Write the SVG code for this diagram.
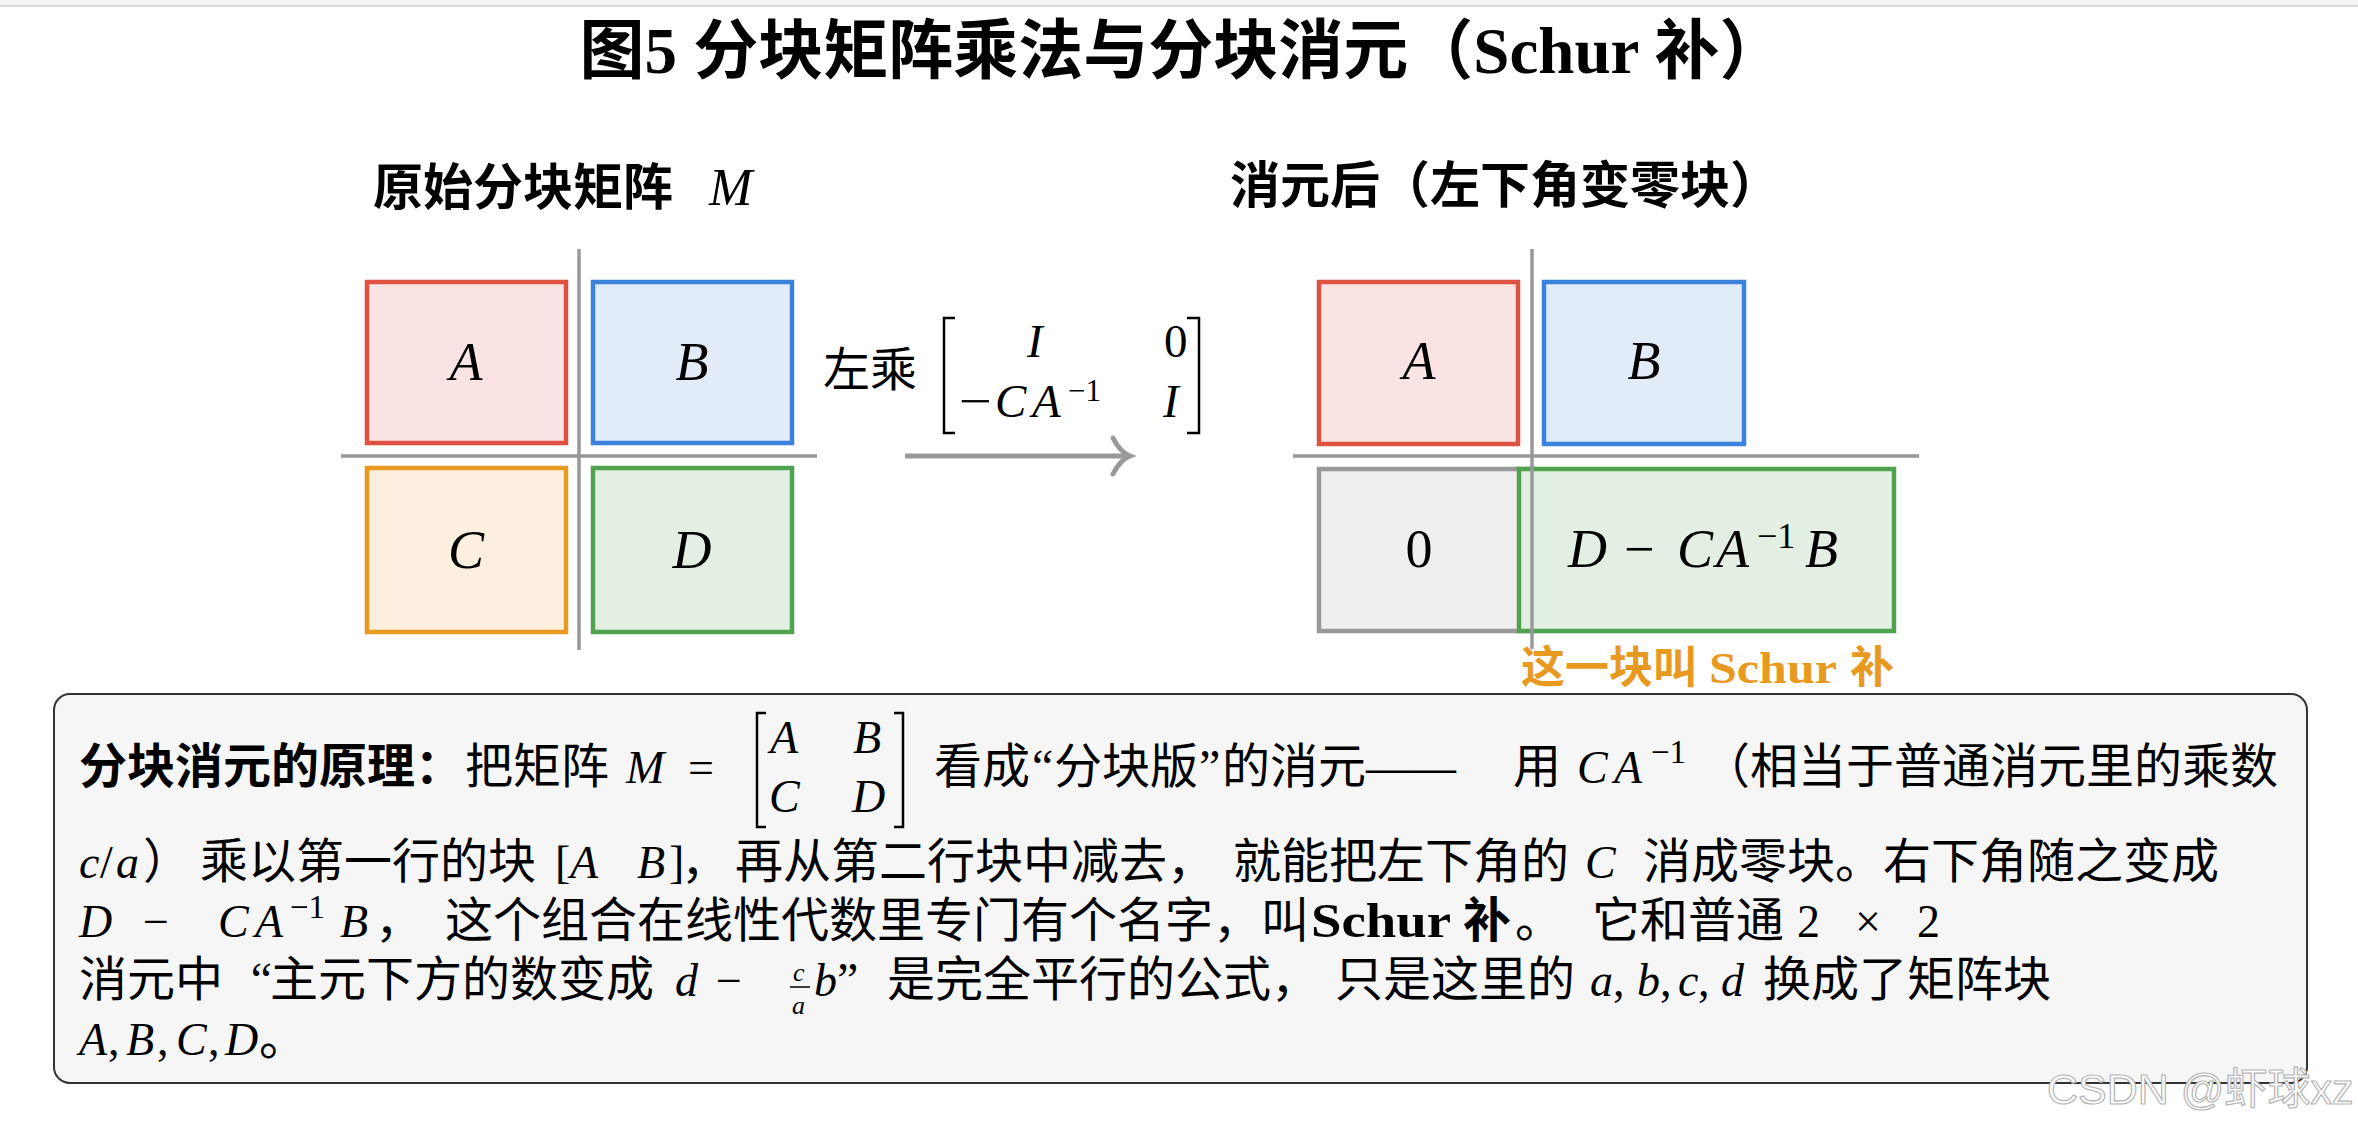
<svg xmlns="http://www.w3.org/2000/svg" width="2358" height="1134" viewBox="0 0 2358 1134">
<style>
.cj{font-family:"Liberation Serif","Noto Sans CJK SC",serif;}
.b{font-weight:bold}
.m{font-family:"Liberation Serif",serif;font-style:italic}
.r{font-family:"Liberation Serif",serif}
.lbl{font-family:"Liberation Serif",serif;font-style:italic;font-size:54px;text-anchor:middle}
.blk{stroke-width:4.5}
.div{stroke:#999;stroke-width:3.5}
.br{fill:none;stroke:#000;stroke-width:2.5}
.body{font-size:48px}
.mb{font-size:46px}
.sup{font-size:33px}
</style>
<rect x="0" y="0" width="2358" height="1134" fill="#ffffff"/>
<rect x="0" y="0" width="2358" height="5" fill="#f3f3f3"/>
<line x1="0" y1="6" x2="2358" y2="6" stroke="#cccccc" stroke-width="1.5"/>

<g id="title">
<text x="1182" y="73" class="cj b" font-size="65" text-anchor="middle">图5 分块矩阵乘法与分块消元（Schur 补）</text>
</g>

<g id="left-heading">
<text x="373" y="205" class="cj b" font-size="50">原始分块矩阵</text>
<text x="709" y="205" class="m" font-size="52">M</text>
</g>
<g id="right-heading">
<text x="1230" y="203" class="cj b" font-size="50">消元后（左下角变零块）</text>
</g>

<g id="left-matrix">
<g id="blockA"><rect x="367" y="282" width="199" height="161" fill="#f9e3e3" stroke="#df5140" class="blk"/><text x="466" y="380" class="lbl">A</text></g>
<g id="blockB"><rect x="593" y="282" width="199" height="161" fill="#e1ecf8" stroke="#3b82dc" class="blk"/><text x="692" y="380" class="lbl">B</text></g>
<g id="blockC"><rect x="367" y="468" width="199" height="164" fill="#fcefdf" stroke="#e8991f" class="blk"/><text x="466" y="568" class="lbl">C</text></g>
<g id="blockD"><rect x="593" y="468" width="199" height="164" fill="#e3efe2" stroke="#4fa34f" class="blk"/><text x="692" y="568" class="lbl">D</text></g>
<line x1="579" y1="249" x2="579" y2="650" class="div"/>
<line x1="341" y1="456" x2="817" y2="456" class="div"/>
</g>

<g id="right-matrix">
<g id="blockA2"><rect x="1319" y="282" width="199" height="162" fill="#f9e3e3" stroke="#df5140" class="blk"/><text x="1419" y="379" class="lbl">A</text></g>
<g id="blockB2"><rect x="1544" y="282" width="200" height="162" fill="#e1ecf8" stroke="#3b82dc" class="blk"/><text x="1644" y="379" class="lbl">B</text></g>
<g id="block0"><rect x="1319" y="469" width="215" height="162" fill="#efefef" stroke="#999999" class="blk"/><text x="1419" y="567" font-size="54" class="r" text-anchor="middle">0</text></g>
<g id="blockS"><rect x="1519" y="469" width="375" height="162" fill="#e3efe2" stroke="#4fa34f" class="blk"/>
<text y="567" font-size="54"><tspan x="1568" class="m">D</tspan><tspan x="1624" class="r">−</tspan><tspan x="1677" class="m">C</tspan><tspan x="1716" class="m">A</tspan><tspan x="1805" class="m">B</tspan></text>
<text x="1757" y="548" font-size="36" class="r">−1</text></g>
<line x1="1532" y1="249" x2="1532" y2="649" class="div"/>
<line x1="1293" y1="456" x2="1919" y2="456" class="div"/>
<g id="schur-label"><text y="683" class="cj b" font-size="44" fill="#e8991f"><tspan x="1521">这一块叫</tspan><tspan x="1709" textLength="128" lengthAdjust="spacingAndGlyphs">Schur</tspan><tspan x="1850">补</tspan></text></g>
</g>

<g id="connectors">
<g id="arrow">
<line x1="905" y1="456" x2="1127" y2="456" stroke="#999999" stroke-width="5"/>
<path d="M1113,438 Q1120,452 1130,456 Q1120,460 1113,474" fill="none" stroke="#999999" stroke-width="5" stroke-linecap="round"/>
</g>
<g id="arrow-label">
<text x="823" y="386" class="cj" font-size="47">左乘</text>
<path d="M955,318 H944 V433 H955" class="br"/>
<path d="M1187,318 H1199 V433 H1187" class="br"/>
<text x="1027" y="357" class="m" font-size="47">I</text>
<text x="1164" y="357" class="r" font-size="47">0</text>
<text x="959" y="417" class="r" font-size="47" textLength="33" lengthAdjust="spacingAndGlyphs">−</text>
<text y="417" font-size="47"><tspan x="995" class="m">C</tspan><tspan x="1032" class="m">A</tspan></text>
<text x="1068" y="401" class="r" font-size="31">−1</text>
<text x="1163" y="417" class="m" font-size="47">I</text>
</g>
</g>

<g id="explanation">
<rect x="54" y="694" width="2253" height="389" rx="16" ry="16" fill="#f6f6f6" stroke="#333333" stroke-width="2"/>
<!-- line 1 -->
<text x="79" y="783" class="cj b body">分块消元的原理：</text>
<text x="465" y="783" class="cj body">把矩阵</text>
<text x="626" y="783" class="m mb">M</text>
<text x="688" y="783" class="r mb">=</text>
<path d="M766,713 H757 V827 H766" class="br"/>
<path d="M894,713 H903 V827 H894" class="br"/>
<text y="753" class="m mb"><tspan x="770">A</tspan><tspan x="853">B</tspan></text>
<text y="812" class="m mb"><tspan x="769">C</tspan><tspan x="852">D</tspan></text>
<text x="934" y="783" class="cj body">看成</text>
<text x="1032" y="783" class="cj body">“</text>
<text x="1054" y="783" class="cj body">分块版</text>
<text x="1199" y="783" class="cj body">”</text>
<text x="1222" y="783" class="cj body">的消元</text>
<text x="1366" y="783" class="r body" textLength="90" lengthAdjust="spacingAndGlyphs">——</text>
<text x="1513" y="783" class="cj body">用</text>
<text y="783" class="m mb"><tspan x="1577">C</tspan><tspan x="1614">A</tspan></text>
<text x="1651" y="763" class="r sup">−1</text>
<text x="1702" y="783" class="cj body">（相当于普通消元里的乘数</text>
<!-- line 2 -->
<text y="878" class="mb"><tspan x="79" class="m">c</tspan><tspan x="100" class="r">/</tspan><tspan x="116" class="m">a</tspan></text>
<text x="143" y="878" class="cj body">）</text>
<text x="200" y="878" class="cj body">乘以第一行的块</text>
<text y="878" class="mb"><tspan x="555" class="r">[</tspan><tspan x="570" class="m">A</tspan><tspan x="637" class="m">B</tspan><tspan x="669" class="r">]</tspan></text>
<text x="681" y="878" class="cj body">，</text>
<text x="735" y="878" class="cj body">再从第二行块中减去，</text>
<text x="1233" y="878" class="cj body">就能把左下角的</text>
<text x="1585" y="878" class="m mb">C</text>
<text x="1643" y="878" class="cj body">消成零块。右下角随之变成</text>
<!-- line 3 -->
<text y="937" class="mb"><tspan x="79" class="m">D</tspan><tspan x="143" class="r">−</tspan><tspan x="218" class="m">C</tspan><tspan x="255" class="m">A</tspan><tspan x="340" class="m">B</tspan></text>
<text x="290" y="918" class="r sup">−1</text>
<text x="375" y="937" class="cj body">，</text>
<text x="445" y="937" class="cj body">这个组合在线性代数里专门有个名字，叫</text>
<text x="1311" y="937" class="r b body" textLength="140" lengthAdjust="spacingAndGlyphs">Schur</text>
<text x="1463" y="937" class="cj b body">补</text>
<text x="1515" y="937" class="cj body">。</text>
<text x="1592" y="937" class="cj body">它和普通</text>
<text y="937" class="r mb"><tspan x="1797">2</tspan><tspan x="1855">×</tspan><tspan x="1917">2</tspan></text>
<!-- line 4 -->
<text x="79" y="996" class="cj body">消元中</text>
<text x="272" y="996" class="cj body" text-anchor="end">“</text>
<text x="270" y="996" class="cj body">主元下方的数变成</text>
<text x="675" y="996" class="m mb">d</text>
<text x="716" y="996" class="r mb">−</text>
<text x="793" y="981" class="m" font-size="26">c</text>
<line x1="790" y1="987" x2="810" y2="987" stroke="#000" stroke-width="1.5"/>
<text x="792" y="1014" class="m" font-size="26">a</text>
<text x="814" y="996" class="m mb">b</text>
<text x="837" y="996" class="cj body">”</text>
<text x="887" y="996" class="cj body">是完全平行的公式，</text>
<text x="1335" y="996" class="cj body">只是这里的</text>
<text y="996" class="mb"><tspan x="1590" class="m">a</tspan><tspan x="1613" class="r">,</tspan><tspan x="1637" class="m">b</tspan><tspan x="1660" class="r">,</tspan><tspan x="1678" class="m">c</tspan><tspan x="1698" class="r">,</tspan><tspan x="1721" class="m">d</tspan></text>
<text x="1763" y="996" class="cj body">换成了矩阵块</text>
<!-- line 5 -->
<text y="1055" class="mb"><tspan x="79" class="m">A</tspan><tspan x="108" class="r">,</tspan><tspan x="126" class="m">B</tspan><tspan x="157" class="r">,</tspan><tspan x="176" class="m">C</tspan><tspan x="208" class="r">,</tspan><tspan x="225" class="m">D</tspan></text>
<text x="259" y="1055" class="cj body">。</text>
</g>

<g id="watermark">
<text x="2047" y="1104" font-family="Liberation Sans, Noto Sans CJK SC, sans-serif" font-size="43" fill="#ffffff" stroke="#b5b5b5" stroke-width="1.2">CSDN @虾球xz</text>
</g>
</svg>
